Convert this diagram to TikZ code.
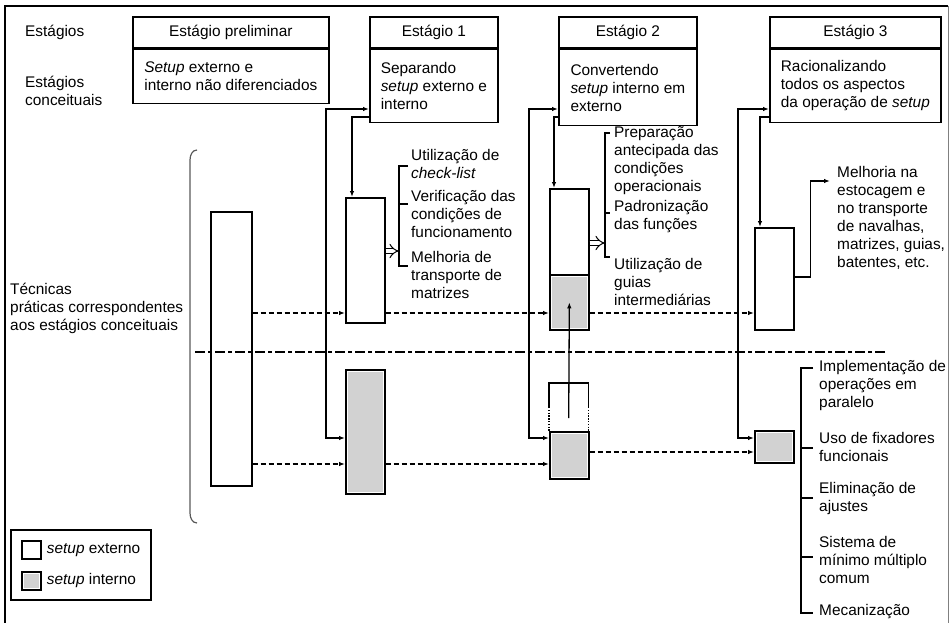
\documentclass[tikz,border=0pt]{standalone}
\usepackage{fontspec}
\setmainfont{Liberation Sans}
\usetikzlibrary{arrows.meta,positioning}

\begin{document}
\begin{tikzpicture}[x=1pt,y=-1pt,
  >={Latex[length=6pt,width=4.5pt]},
  every node/.style={font=\fontsize{15.4}{18}\selectfont, inner sep=0pt},
  stagebox/.style={draw, line width=1.7pt},
  stagehead/.style={stagebox, minimum height=31pt, anchor=north west},
  stagedesc/.style={stagebox, align=left, anchor=north west},
  extbox/.style={stagebox, fill=white, minimum width=39pt, anchor=north west},
  intbox/.style={extbox, path picture={\fill[gray!35] ([shift={(1.8pt,-1.8pt)}]path picture bounding box.north west) rectangle ([shift={(-1.8pt,1.8pt)}]path picture bounding box.south east);}},
  link/.style={line width=1.3pt},
  flow/.style={line width=1.3pt, dash pattern=on 5pt off 3pt, ->},
  brace/.style={line width=1.3pt},
  hollow/.style={double, double distance=4pt, line width=1pt, -{Implies}},
  lbl/.style={anchor=west, align=left}
]
\useasboundingbox (0,0) rectangle (950,623);

% frame
\draw[line width=2pt] (5,623) -- (5,6) -- (948,6);
\draw[line width=1pt, gray] (948,6) -- (948,623);

% left column
\node[lbl] (lstages) at (25,32) {Estágios};
\node[lbl] (lconcept) at (25,91) {Estágios\\conceituais};
\node[lbl] (ltech) at (10,308.5) {Técnicas\\práticas correspondentes\\aos estágios conceituais};
\draw[gray!70!black, line width=1.2pt] (197,150) to[out=180,in=90] (190,160) -- (190,513) to[out=-90,in=180] (197,523);

% stage headers
\node[stagehead, minimum width=196pt] (h0) at (132,16) {Estágio preliminar};
\node[stagedesc, minimum width=196pt, minimum height=54pt] (c0) at (h0.south west) {\textit{Setup} externo e\\interno não diferenciados};
\node[stagehead, minimum width=128pt] (h1) at (369,16) {Estágio 1};
\node[stagedesc, minimum width=128pt, minimum height=73pt] (c1) at (h1.south west) {Separando\\\textit{setup} externo e\\interno};
\node[stagehead, minimum width=138pt] (h2) at (558,16) {Estágio 2};
\node[stagedesc, minimum width=138pt, minimum height=76pt] (c2) at (h2.south west) {Convertendo\\\textit{setup} interno em\\externo};
\node[stagehead, minimum width=171pt] (h3) at (769,16) {Estágio 3};
\node[stagedesc, minimum width=171pt, minimum height=73pt] (c3) at (h3.south west) {Racionalizando\\todos os aspectos\\da operação de \textit{setup}};

% setup columns
\node[extbox, minimum width=41pt, minimum height=274pt] (p0) at (210,211) {};
\node[extbox, minimum height=125pt] (e1) at (345,197) {};
\node[intbox, minimum height=124pt] (i1) at (345,369) {};
\node[extbox, minimum height=86pt] (e2) at (549,188) {};
\node[intbox, minimum height=55pt] (v2) at (549,274) {};
\node[minimum width=39pt, minimum height=48pt, anchor=north west] (g2) at (549,383) {};
\node[intbox, minimum height=47pt] (i2) at (549,431) {};
\node[extbox, minimum height=102pt] (e3) at (754,227) {};
\node[intbox, minimum height=32pt] (i3) at (754,430) {};

% moved part of stage 2
\draw[stagebox] ([yshift=-24pt]g2.north west) -- (g2.north west) -- (g2.north east) -- ([yshift=-24pt]g2.north east);
\draw[stagebox, dash pattern=on 1.4pt off 1.4pt] ([yshift=-24pt]g2.north west) -- (g2.south west);
\draw[stagebox, dash pattern=on 1.4pt off 1.4pt] ([yshift=-24pt]g2.north east) -- (g2.south east);

% levels
\coordinate (hi) at (0,109);
\coordinate (hi2) at (0,117);
\coordinate (lo) at (0,438);
\coordinate (row1) at (0,313);
\coordinate (row2) at (0,464);
\coordinate (row3) at (0,452);

% external / internal line
\draw[line width=1.5pt, dash pattern=on 10pt off 3pt on 4pt off 3pt] (195,352) -- (887,352);

% flows between stages
\draw[flow] (p0.east |- row1) -- (e1.west |- row1);
\draw[flow] (e1.east |- row1) -- (v2.west |- row1);
\draw[flow] (v2.east |- row1) -- (e3.west |- row1);
\draw[flow] (p0.east |- row2) -- (i1.west |- row2);
\draw[flow] (i1.east |- row2) -- (i2.west |- row2);
\draw[flow] (i2.east |- row3) -- (i3.west |- row3);

% concept links
\draw[link,<->] (i1.west |- lo) -- ++(-19,0) |- (c1.west |- hi);
\draw[link,->] (c1.west |- hi2) -| ([xshift=7pt]e1.north west);
\draw[link,<->] (i2.west |- lo) -- ++(-20,0) |- (c2.west |- hi);
\draw[link,->] (c2.west |- hi2) -| ([xshift=5pt]e2.north west);
\draw[link,<->] (i3.west |- lo) -- ++(-16,0) |- (c3.west |- hi);
\draw[link,->] (c3.west |- hi2) -| ([xshift=6pt]e3.north west);
\draw[link,->] ([yshift=-11pt]g2.center) -- (v2.center);

% stage 1 techniques
\node[lbl] (u1) at (411,163.5) {Utilização de\\\textit{check-list}};
\node[lbl] (u2) at (411,214) {Verificação das\\condições de\\funcionamento};
\node[lbl] (u3) at (411,275) {Melhoria de\\transporte de\\matrizes};
\draw[brace] (408,166) -| (399,266) -- (408,266);
\draw[brace] (399,204) -- (408,204);
\coordinate (b1) at (399,251);
\draw[hollow] (e1.east |- b1) -- (b1);

% stage 2 techniques
\node[lbl] (w1) at (614,160.5) {Preparação\\antecipada das\\condições\\operacionais};
\node[lbl] (w2) at (614,216.5) {Padronização\\das funções};
\node[lbl] (w3) at (614,281.5) {Utilização de\\guias\\intermediárias};
\draw[brace] (610,133) -| (605,257) -- (610,257);
\draw[brace] (605,213) -- (610,213);
\coordinate (b2) at (605,243);
\draw[hollow] (e2.east |- b2) -- (b2);

% stage 3 techniques
\node[lbl] (m3) at (837,217.5) {Melhoria na\\estocagem e\\no transporte\\de navalhas,\\matrizes, guias,\\batentes, etc.};
\coordinate (m3in) at (830,181);
\draw[link,->] ([yshift=2pt]e3.east) -- ++(16,0) |- (m3in);
\node[lbl] (k1) at (819,386) {Implementação de\\operações em\\paralelo};
\node[lbl] (k2) at (819,447) {Uso de fixadores\\funcionais};
\node[lbl] (k3) at (819,499) {Eliminação de\\ajustes};
\node[lbl] (k4) at (819,560) {Sistema de\\mínimo múltiplo\\comum};
\node[lbl] (k5) at (819,612) {Mecanização};
\draw[brace] (813,368) -| (801,613) -- (813,613);
\foreach \ty in {448,498,557} \draw[brace] (801,\ty) -- (813,\ty);

% legend
\node[stagebox, minimum width=140pt, minimum height=70pt, anchor=north west] (leg) at (10,529) {};
\node[extbox, minimum width=19pt, minimum height=18pt] (lx) at (21,540) {};
\node[intbox, minimum width=19pt, minimum height=18pt] (li) at (21,571) {};
\node[anchor=west, right=5pt of lx] (lxt) {\textit{setup} externo};
\node[anchor=west, right=5pt of li] (lit) {\textit{setup} interno};

\end{tikzpicture}
\end{document}
